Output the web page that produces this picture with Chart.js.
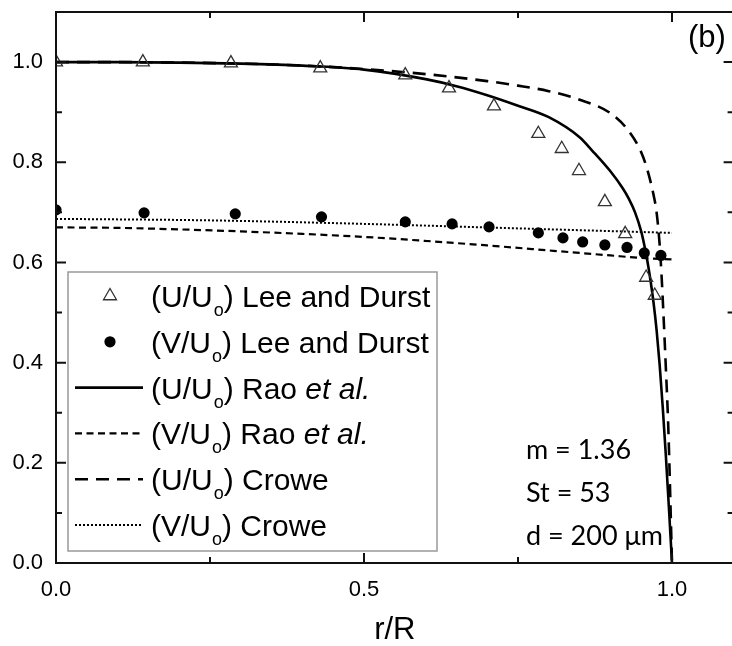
<!DOCTYPE html>
<html>
<head>
<meta charset="utf-8">
<script src="https://cdn.jsdelivr.net/npm/chart.js@4.4.1/dist/chart.umd.min.js"></script>
<style>
html,body{margin:0;padding:0;overflow:hidden;background:#fff;width:732px;height:646px;}
canvas{display:block;}
</style>
</head>
<body>
<canvas id="c" width="740" height="646"></canvas>
<script>
// ---- data ----
const uLeeR = [0, 0.141, 0.284, 0.429, 0.567, 0.638, 0.711, 0.783, 0.821, 0.849, 0.891, 0.924, 0.958, 0.972];
const uLeeV = [1.0, 1.0, 0.998, 0.988, 0.974, 0.948, 0.912, 0.857, 0.827, 0.783, 0.721, 0.657, 0.570, 0.534];

const vLeeR = [0, 0.143, 0.291, 0.431, 0.567, 0.643, 0.703, 0.783, 0.823, 0.855, 0.891, 0.927, 0.955, 0.982];
const vLeeV = [0.705, 0.699, 0.697, 0.691, 0.681, 0.677, 0.671, 0.659, 0.649, 0.641, 0.635, 0.630, 0.619, 0.614];

const uRaoR = [0, 0.1, 0.2, 0.3, 0.4, 0.5, 0.6, 0.65, 0.7, 0.75, 0.8, 0.85, 0.87, 0.9, 0.92, 0.93, 0.94, 0.95, 0.955, 0.96, 0.965, 0.97, 0.975, 0.98, 0.985, 0.99, 0.995, 1.0];
const uRaoV = [1.0, 1.0, 0.999, 0.997, 0.993, 0.985, 0.966, 0.952, 0.934, 0.913, 0.89, 0.85, 0.824, 0.782, 0.748, 0.727, 0.700, 0.662, 0.635, 0.603, 0.565, 0.52, 0.465, 0.395, 0.31, 0.215, 0.11, 0];

const vRaoR = [0, 0.1, 0.2, 0.3, 0.4, 0.5, 0.6, 0.7, 0.8, 0.9, 0.95, 1.0];
const vRaoV = [0.670, 0.669, 0.666, 0.662, 0.657, 0.651, 0.643, 0.634, 0.624, 0.614, 0.609, 0.606];

const uCroweR = [0, 0.1, 0.2, 0.3, 0.4, 0.5, 0.6, 0.7, 0.75, 0.8, 0.85, 0.9, 0.93, 0.95, 0.96, 0.97, 0.975, 0.98, 0.983, 0.986, 0.99, 0.994, 1.0];
const uCroweV = [1.0, 1.0, 0.999, 0.997, 0.993, 0.986, 0.976, 0.962, 0.953, 0.942, 0.925, 0.898, 0.862, 0.820, 0.785, 0.735, 0.700, 0.635, 0.575, 0.50, 0.39, 0.27, 0];

const vCroweR = [0, 0.25, 0.5, 0.75, 1.0];
const vCroweV = [0.687, 0.684, 0.677, 0.668, 0.659];

const xMajorTicks = [0, 0.5, 1.0];
const xMinorTicks = [0.25, 0.75];
const yMajorTicks = [0, 0.2, 0.4, 0.6, 0.8, 1.0];
const yMinorTicks = [0.1, 0.3, 0.5, 0.7, 0.9];

const legendLabels = [
  [{t:'(U/U'},{t:'o',sub:true},{t:') Lee and Durst'}],
  [{t:'(V/U'},{t:'o',sub:true},{t:') Lee and Durst'}],
  [{t:'(U/U'},{t:'o',sub:true},{t:') Rao '},{t:'et al.',it:true}],
  [{t:'(V/U'},{t:'o',sub:true},{t:') Rao '},{t:'et al.',it:true}],
  [{t:'(U/U'},{t:'o',sub:true},{t:') Crowe'}],
  [{t:'(V/U'},{t:'o',sub:true},{t:') Crowe'}]
];
const annotationLines = ['m = 1.36', 'St = 53', 'd = 200 \u03BCm'];
const panelLabel = '(b)';
const xTitle = 'r/R';

function pts(xs, ys){ return xs.map((x,i)=>({x:x, y:ys[i]})); }

const FONT = '"Liberation Sans", Arial, sans-serif';

const datasets = [
  {label:'(U/Uo) Lee and Durst', data:pts(uLeeR,uLeeV), showLine:false, pointStyle:'triangle', pointRadius:7.5, pointBorderColor:'#333', pointBackgroundColor:'rgba(0,0,0,0)', pointBorderWidth:1.3},
  {label:'(V/Uo) Lee and Durst', data:pts(vLeeR,vLeeV), showLine:false, pointStyle:'circle', pointRadius:5.6, pointBorderColor:'#000', pointBackgroundColor:'#000', pointBorderWidth:0},
  {label:'(U/Uo) Rao et al.', data:pts(uRaoR,uRaoV), showLine:true, borderColor:'#000', borderWidth:2.6, pointRadius:0, cubicInterpolationMode:'monotone'},
  {label:'(V/Uo) Rao et al.', data:pts(vRaoR,vRaoV), showLine:true, borderColor:'#000', borderWidth:2.2, borderDash:[7,4.5], pointRadius:0, cubicInterpolationMode:'monotone'},
  {label:'(U/Uo) Crowe', data:pts(uCroweR,uCroweV), showLine:true, borderColor:'#000', borderWidth:2.6, borderDash:[13,8], pointRadius:0, cubicInterpolationMode:'monotone'},
  {label:'(V/Uo) Crowe', data:pts(vCroweR,vCroweV), showLine:true, borderColor:'#000', borderWidth:2, borderDash:[2,2], pointRadius:0, cubicInterpolationMode:'monotone'}
];

const framePlugin = {
  id:'frame',
  afterDraw(chart){
    const ctx = chart.ctx, a = chart.chartArea;
    const xs = chart.scales.x, ys = chart.scales.y;
    ctx.save();
    ctx.strokeStyle = '#111';
    ctx.lineWidth = 2;
    ctx.strokeRect(a.left, a.top, a.right - a.left, a.bottom - a.top);
    ctx.beginPath();
    const tick = (vals, len, isX) => {
      vals.forEach(v => {
        if (isX) {
          const p = xs.getPixelForValue(v);
          ctx.moveTo(p, a.bottom); ctx.lineTo(p, a.bottom - len);
          ctx.moveTo(p, a.top); ctx.lineTo(p, a.top + len);
        } else {
          const p = ys.getPixelForValue(v);
          ctx.moveTo(a.left, p); ctx.lineTo(a.left + len, p);
          ctx.moveTo(a.right, p); ctx.lineTo(a.right - len, p);
        }
      });
    };
    tick(xMajorTicks, 10, true); tick(xMinorTicks, 6, true);
    tick(yMajorTicks, 10, false); tick(yMinorTicks, 6, false);
    ctx.stroke();

    // legend box
    ctx.strokeStyle = '#999';
    ctx.lineWidth = 1.5;
    ctx.strokeRect(68, 272, 369, 279);
    chart.data.datasets.forEach((ds, i) => {
      const cy = 296 + i * 45.8;
      ctx.save();
      if (ds.showLine) {
        ctx.strokeStyle = ds.borderColor;
        ctx.lineWidth = ds.borderWidth;
        ctx.setLineDash(ds.borderDash || []);
        ctx.beginPath(); ctx.moveTo(75, cy); ctx.lineTo(143, cy); ctx.stroke();
      } else {
        ctx.fillStyle = ds.pointBackgroundColor;
        ctx.strokeStyle = ds.pointBorderColor;
        ctx.lineWidth = ds.pointBorderWidth;
        Chart.helpers.drawPoint(ctx, {pointStyle: ds.pointStyle, radius: ds.pointRadius, borderWidth: ds.pointBorderWidth}, 110, cy);
      }
      ctx.restore();
      let x = 151;
      ctx.fillStyle = '#000';
      ctx.textBaseline = 'alphabetic';
      ctx.textAlign = 'left';
      legendLabels[i].forEach(seg => {
        if (seg.sub) {
          ctx.font = '18px ' + FONT;
          ctx.fillText(seg.t, x + 1, cy + 11 + 9);
          x += ctx.measureText(seg.t).width + 1;
        } else {
          ctx.font = (seg.it ? 'italic ' : '') + '30px ' + FONT;
          ctx.fillText(seg.t, x, cy + 11);
          x += ctx.measureText(seg.t).width;
        }
      });
    });

    ctx.font = '27px Lato, "Open Sans", sans-serif';
    ctx.fillStyle = '#000';
    annotationLines.forEach((t, i) => ctx.fillText(t, 526, 459 + i * 43));
    ctx.font = '31px ' + FONT;
    ctx.fillText(panelLabel, 688, 47);
    ctx.restore();
  }
};

Chart.defaults.font.family = FONT;
Chart.defaults.color = '#000';

new Chart(document.getElementById('c'), {
  type:'scatter',
  data:{datasets:datasets},
  options:{
    responsive:false,
    animation:false,
    devicePixelRatio:1,
    layout:{autoPadding:false, padding:{left:0, top:12, right:6.4, bottom:0}},
    plugins:{legend:{display:false}, tooltip:{enabled:false}},
    scales:{
      x:{
        type:'linear', min:0, max:1.1,
        grid:{display:false, drawTicks:false},
        border:{display:false},
        ticks:{stepSize:0.5, includeBounds:false, padding:14, font:{size:22}, color:'#000', maxRotation:0,
               callback:v => v.toFixed(1)},
        title:{display:true, text:xTitle, font:{size:31, lineHeight:1}, padding:{top:0, bottom:0}, color:'#000'},
        afterFit(s){ s.height = 83; s.paddingLeft = 0; s.paddingRight = 0; }
      },
      y:{
        type:'linear', min:0, max:1.1,
        grid:{display:false, drawTicks:false},
        border:{display:false},
        ticks:{stepSize:0.2, includeBounds:false, padding:13, font:{size:22}, color:'#000',
               callback:v => v.toFixed(1)},
        afterFit(s){ s.width = 56; s.paddingTop = 0; s.paddingBottom = 0; }
      }
    }
  },
  plugins:[framePlugin]
});
</script>
</body>
</html>
